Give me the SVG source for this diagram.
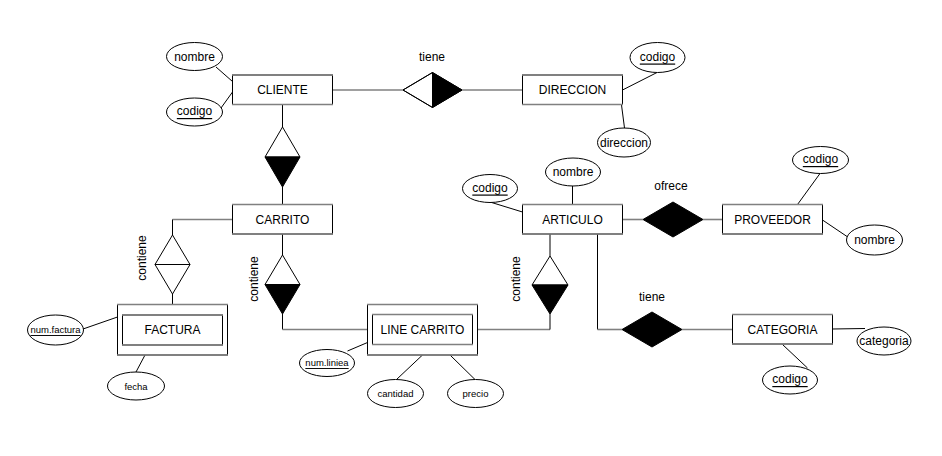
<svg xmlns="http://www.w3.org/2000/svg" width="942" height="456" viewBox="0 0 942 456">
<style>
text{font-family:"Liberation Sans",Arial,sans-serif;font-size:12px;fill:#000;text-anchor:middle;dominant-baseline:central}
.s{font-size:9.5px}
.u{text-decoration:underline}
.ent{fill:#fff;stroke:#000;stroke-width:1}
.eh{stroke:#808080;stroke-width:1.6;fill:none}
.att{fill:#fff;stroke:#000;stroke-width:1}
.h{stroke:#808080;stroke-width:1.6;fill:none}
.v{stroke:#000;stroke-width:1;fill:none}
.d{stroke:#000;stroke-width:1;fill:#fff}
.k{fill:#000;stroke:#000;stroke-width:1}
</style>
<rect width="942" height="456" fill="#fff"/>
<g id="connectors">
<line class="h" x1="333" y1="90" x2="403" y2="90"/>
<line class="h" x1="462" y1="90" x2="523" y2="90"/>
<line class="v" x1="282.5" y1="104" x2="282.5" y2="127"/>
<line class="v" x1="282.5" y1="187" x2="282.5" y2="204"/>
<line class="h" x1="233" y1="219.5" x2="172.5" y2="219.5"/>
<line class="v" x1="172.5" y1="219.5" x2="172.5" y2="235"/>
<line class="v" x1="172.5" y1="294" x2="172.5" y2="304.5"/>
<line class="v" x1="282.5" y1="234" x2="282.5" y2="255"/>
<line class="v" x1="282.5" y1="314" x2="282.5" y2="329.5"/>
<line class="h" x1="282.5" y1="329.5" x2="368" y2="329.5"/>
<line class="h" x1="477" y1="329.5" x2="550" y2="329.5"/>
<line class="v" x1="550" y1="329.5" x2="550" y2="314"/>
<line class="v" x1="550" y1="256" x2="550" y2="234"/>
<line class="h" x1="622" y1="219.5" x2="643" y2="219.5"/>
<line class="h" x1="703" y1="219.5" x2="723" y2="219.5"/>
<line class="v" x1="597.5" y1="234" x2="597.5" y2="329.5"/>
<line class="h" x1="597.5" y1="329.5" x2="622" y2="329.5"/>
<line class="h" x1="682" y1="329.5" x2="733" y2="329.5"/>
<line class="v" x1="216" y1="67" x2="232.5" y2="81.5"/>
<line class="v" x1="221" y1="108" x2="232.5" y2="92"/>
<line class="v" x1="622.5" y1="90" x2="657" y2="72.5"/>
<line class="v" x1="621.5" y1="105" x2="624.5" y2="128"/>
<line class="v" x1="83" y1="329" x2="117.5" y2="317"/>
<line class="v" x1="136" y1="372" x2="145" y2="355"/>
<line class="v" x1="347.5" y1="351" x2="367.5" y2="342.5"/>
<line class="v" x1="396.5" y1="379.5" x2="422.5" y2="355"/>
<line class="v" x1="450" y1="355" x2="475" y2="379.5"/>
<line class="v" x1="490" y1="202" x2="522.5" y2="212"/>
<line class="v" x1="572.5" y1="185.5" x2="572.5" y2="204.5"/>
<line class="v" x1="797.5" y1="204.5" x2="820" y2="173.5"/>
<line class="v" x1="822.5" y1="220" x2="848.5" y2="237.5"/>
<line class="v" x1="832" y1="329" x2="865" y2="328.5"/>
<line class="v" x1="782.5" y1="344.5" x2="807.5" y2="368"/>
</g>
<g id="rel-tiene-cliente-direccion">
<polygon class="d" points="403,90 432.5,72.5 432.5,107.5"/>
<polygon class="k" points="432.5,72.5 462,90 432.5,107.5"/>
<polygon class="d" style="fill:none" points="403,90 432.5,72.5 462,90 432.5,107.5"/>
<text x="432" y="57">tiene</text>
</g>
<g id="rel-cliente-carrito">
<polygon class="d" points="282.5,127 300,157 265,157"/>
<polygon class="k" points="265,157 300,157 282.5,187"/>
</g>
<g id="rel-contiene-factura">
<polygon class="d" points="172.5,235 190,264.5 172.5,294 155,264.5"/>
<line class="v" x1="155" y1="264.5" x2="190" y2="264.5"/>
<text transform="translate(141.5,258) rotate(-90)">contiene</text>
</g>
<g id="rel-contiene-carrito">
<polygon class="d" points="282.5,255 300,284.5 265,284.5"/>
<polygon class="k" points="265,284.5 300,284.5 282.5,314"/>
<text transform="translate(254,279) rotate(-90)">contiene</text>
</g>
<g id="rel-contiene-articulo">
<polygon class="d" points="550,256 568,285 532,285"/>
<polygon class="k" points="532,285 568,285 550,314"/>
<text transform="translate(516,279) rotate(-90)">contiene</text>
</g>
<g id="rel-ofrece">
<polygon class="k" points="643,219.5 673,202 703,219.5 673,237"/>
<text x="671" y="186">ofrece</text>
</g>
<g id="rel-tiene-categoria">
<polygon class="k" points="622,329.5 652,312 682,329.5 652,347"/>
<text x="652" y="297">tiene</text>
</g>
<g id="CLIENTE">
<rect class="ent" x="232.5" y="75" width="100" height="29.5"/>
<line class="eh" x1="232" y1="75" x2="333" y2="75"/><line class="eh" x1="232" y1="104.5" x2="333" y2="104.5"/>
<text x="282.5" y="90">CLIENTE</text>
</g>
<g id="DIRECCION">
<rect class="ent" x="522.5" y="75" width="100" height="29.5"/>
<line class="eh" x1="522" y1="75" x2="623" y2="75"/><line class="eh" x1="522" y1="104.5" x2="623" y2="104.5"/>
<text x="572.5" y="90">DIRECCION</text>
</g>
<g id="CARRITO">
<rect class="ent" x="232.5" y="204.5" width="100" height="29.5"/>
<line class="eh" x1="232" y1="204.5" x2="333" y2="204.5"/><line class="eh" x1="232" y1="234" x2="333" y2="234"/>
<text x="282.5" y="219.5">CARRITO</text>
</g>
<g id="FACTURA">
<rect class="ent" x="117.5" y="304.5" width="110" height="50.5"/>
<line class="eh" x1="117" y1="304.5" x2="228" y2="304.5"/><line class="eh" x1="117" y1="355" x2="228" y2="355"/>
<rect class="ent" x="122.5" y="315" width="100" height="30"/>
<line class="eh" x1="122" y1="315" x2="223" y2="315"/><line class="eh" x1="122" y1="345" x2="223" y2="345"/>
<text x="172.5" y="330">FACTURA</text>
</g>
<g id="LINE-CARRITO">
<rect class="ent" x="367.5" y="304.5" width="110" height="50.5"/>
<line class="eh" x1="367" y1="304.5" x2="478" y2="304.5"/><line class="eh" x1="367" y1="355" x2="478" y2="355"/>
<rect class="ent" x="372.5" y="314.5" width="100" height="30"/>
<line class="eh" x1="372" y1="314.5" x2="473" y2="314.5"/><line class="eh" x1="372" y1="344.5" x2="473" y2="344.5"/>
<text x="422.5" y="329.5">LINE CARRITO</text>
</g>
<g id="ARTICULO">
<rect class="ent" x="522.5" y="204.5" width="100" height="29.5"/>
<line class="eh" x1="522" y1="204.5" x2="623" y2="204.5"/><line class="eh" x1="522" y1="234" x2="623" y2="234"/>
<text x="572.5" y="219.5">ARTICULO</text>
</g>
<g id="PROVEEDOR">
<rect class="ent" x="722.5" y="204.5" width="100" height="29.5"/>
<line class="eh" x1="722" y1="204.5" x2="823" y2="204.5"/><line class="eh" x1="722" y1="234" x2="823" y2="234"/>
<text x="772.5" y="219.5">PROVEEDOR</text>
</g>
<g id="CATEGORIA">
<rect class="ent" x="732.5" y="314.5" width="100" height="29.5"/>
<line class="eh" x1="732" y1="314.5" x2="833" y2="314.5"/><line class="eh" x1="732" y1="344" x2="833" y2="344"/>
<text x="782.5" y="329.5">CATEGORIA</text>
</g>
<g id="att-cliente-nombre"><ellipse class="att" cx="194.5" cy="56.5" rx="28" ry="14"/><text x="194.5" y="56.5">nombre</text></g>
<g id="att-cliente-codigo"><ellipse class="att" cx="194.5" cy="112" rx="28" ry="14"/><text class="u" x="194.5" y="111">codigo</text></g>
<g id="att-direccion-codigo"><ellipse class="att" cx="657.5" cy="57.5" rx="27.5" ry="15"/><text class="u" x="657.5" y="56.5">codigo</text></g>
<g id="att-direccion-direccion"><ellipse class="att" cx="624" cy="142.5" rx="26.5" ry="14.5"/><text x="624" y="142.5">direccion</text></g>
<g id="att-factura-num"><ellipse class="att" cx="55.5" cy="330" rx="28" ry="15"/><text class="s u" x="55.5" y="329.5">num.factura</text></g>
<g id="att-factura-fecha"><ellipse class="att" cx="136" cy="386" rx="28.5" ry="14"/><text class="s" x="136" y="386">fecha</text></g>
<g id="att-line-num"><ellipse class="att" cx="327" cy="363" rx="27.5" ry="13.5"/><text class="s u" x="327" y="362.5">num.liniea</text></g>
<g id="att-line-cantidad"><ellipse class="att" cx="395.5" cy="393.5" rx="28" ry="14"/><text class="s" x="395.5" y="393.5">cantidad</text></g>
<g id="att-line-precio"><ellipse class="att" cx="475.5" cy="393.5" rx="28" ry="14"/><text class="s" x="475.5" y="393.5">precio</text></g>
<g id="att-articulo-codigo"><ellipse class="att" cx="490" cy="188.5" rx="27.5" ry="14"/><text class="u" x="490" y="187.5">codigo</text></g>
<g id="att-articulo-nombre"><ellipse class="att" cx="573" cy="172" rx="27.5" ry="14"/><text x="573" y="172">nombre</text></g>
<g id="att-proveedor-codigo"><ellipse class="att" cx="820.5" cy="160" rx="28" ry="13.5"/><text class="u" x="820.5" y="159">codigo</text></g>
<g id="att-proveedor-nombre"><ellipse class="att" cx="874.5" cy="240" rx="28" ry="15"/><text x="874.5" y="240">nombre</text></g>
<g id="att-categoria-categoria"><ellipse class="att" cx="884" cy="341" rx="27" ry="14"/><text x="884" y="341">categoria</text></g>
<g id="att-categoria-codigo"><ellipse class="att" cx="790" cy="380" rx="27.5" ry="14"/><text class="u" x="790" y="379">codigo</text></g>
</svg>
